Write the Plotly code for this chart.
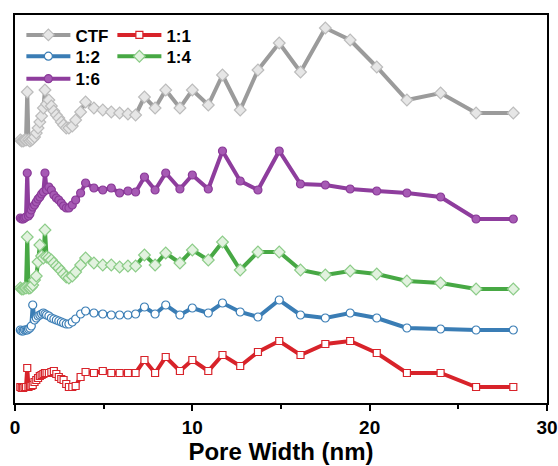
import plotly.graph_objects as go

# Pore width (nm) shared by all curves
pore_width = [0.30, 0.38, 0.46, 0.54, 0.62, 0.69, 0.76, 0.84, 0.92, 1.00,
              1.10, 1.20, 1.30, 1.40, 1.50, 1.60, 1.69, 1.78, 1.91, 2.05,
              2.19, 2.33, 2.47, 2.61, 2.74, 2.89, 3.04, 3.23, 3.42, 3.70,
              3.98, 4.45, 4.95, 5.43, 5.90, 6.37, 6.80, 7.30, 7.90, 8.50,
              9.30, 10.0, 10.9, 11.7, 12.7, 13.7, 14.9, 16.1, 17.5, 18.9,
              20.4, 22.1, 24.0, 26.0, 28.1]

# stacked (offset) pore-size distribution curves, arbitrary units
ctf = [263, 262, 262, 263, 263, 311, 263, 262, 263, 264,
       266, 270, 275, 281, 287, 295, 313, 299, 303, 297,
       292, 288, 285, 281, 278, 275, 275, 277, 283, 291,
       301, 295, 293, 291, 290, 289, 288, 306, 295, 313,
       295, 313, 298, 328, 293, 333, 360, 331, 375, 363,
       336, 303, 310, 290, 290]
r1_6 = [185, 184, 184, 185, 186, 230, 187, 189, 193, 196,
        198, 201, 204, 206, 209, 211, 230, 213, 216, 213,
        208, 205, 203, 200, 197, 195, 195, 198, 203, 210,
        220, 215, 213, 215, 210, 212, 211, 226, 213, 230,
        214, 228, 214, 252, 222, 213, 252, 219, 218, 214,
        212, 210, 206, 184, 184]
r1_4 = [115, 114, 114, 115, 115, 166, 115, 115, 116, 118,
        123, 127, 141, 158, 147, 145, 173, 146, 145, 143,
        140, 137, 135, 132, 129, 126, 125, 127, 131, 138,
        145, 140, 138, 138, 136, 137, 137, 148, 138, 150,
        140, 153, 143, 161, 133, 151, 151, 133, 128, 132,
        129, 122, 120, 114, 114]
r1_2 = [73, 72, 72, 73, 73, 73, 74, 75, 77, 98,
        83, 85, 87, 88, 89, 90, 89, 88, 87, 85,
        84, 83, 82, 81, 80, 79, 79, 81, 84, 89,
        92, 90, 89, 88, 88, 88, 89, 96, 89, 98,
        88, 95, 90, 100, 91, 86, 103, 88, 85, 90,
        85, 75, 74, 73, 73]
r1_1 = [16, 15, 15, 16, 16, 35, 16, 17, 17, 18,
        21, 23, 25, 27, 28, 29, 30, 30, 30, 31,
        32, 29, 26, 24, 23, 19, 16, 16, 17, 26,
        31, 30, 32, 30, 30, 30, 30, 43, 30, 46,
        32, 43, 32, 48, 37, 51, 62, 48, 59, 62,
        50, 30, 30, 16, 16]

series = [
    ("CTF", ctf, "#9b9b9b", "diamond", "#e6e6e6", "#bcbcbc", 9, "legend"),
    ("1:1", r1_1, "#d8232a", "square", "#ffffff", "#d8232a", 7, "legend"),
    ("1:2", r1_2, "#3a7db5", "circle", "#ffffff", "#3a7db5", 8, "legend2"),
    ("1:4", r1_4, "#47a844", "diamond", "#e2f2df", "#8ccc88", 9, "legend2"),
    ("1:6", r1_6, "#8e3d9d", "circle", "#a65ab4", "#8a3a98", 8, "legend3"),
]

fig = go.Figure()
for name, ys, col, sym, fill, mline, msize, leg in series:
    fig.add_trace(go.Scatter(
        x=pore_width, y=ys, name=name, mode="lines+markers",
        line=dict(color=col, width=4),
        marker=dict(symbol=sym, size=msize, color=fill,
                    line=dict(color=mline, width=1.2)),
        legend=leg,
    ))

font_b = "Liberation Sans, Arial, sans-serif"
leg_common = dict(orientation="h", xanchor="left", yanchor="top",
                  bgcolor="rgba(0,0,0,0)", entrywidth=32,
                  font=dict(family=font_b, size=17, color="black", weight="bold"),
                  itemwidth=44, tracegroupgap=0)

fig.update_layout(
    width=558, height=466,
    margin=dict(l=15, r=11, t=15, b=63),
    paper_bgcolor="white", plot_bgcolor="white",
    showlegend=True,
    legend=dict(x=0.012, y=0.994, **leg_common),
    legend2=dict(x=0.012, y=0.939, **leg_common),
    legend3=dict(x=0.012, y=0.881, **leg_common),
    xaxis=dict(range=[0, 30], tickvals=[0, 10, 20, 30], automargin=False,
               ticks="outside", ticklen=6, tickwidth=2, tickcolor="black",
               minor=dict(tickvals=[5, 15, 25], ticks="outside", ticklen=4,
                          tickwidth=2, tickcolor="black"),
               showline=True, linewidth=2, linecolor="black", mirror=True,
               showgrid=False, zeroline=False,
               tickfont=dict(family=font_b, size=19, color="black", weight="bold"),
               title=dict(text="Pore Width (nm)", standoff=6,
                          font=dict(family=font_b, size=24, color="black", weight="bold"))),
    yaxis=dict(range=[0, 388], showticklabels=False, ticks="", automargin=False,
               showline=True, linewidth=2, linecolor="black", mirror=True,
               showgrid=False, zeroline=False),
)

fig.write_html("out.html")
